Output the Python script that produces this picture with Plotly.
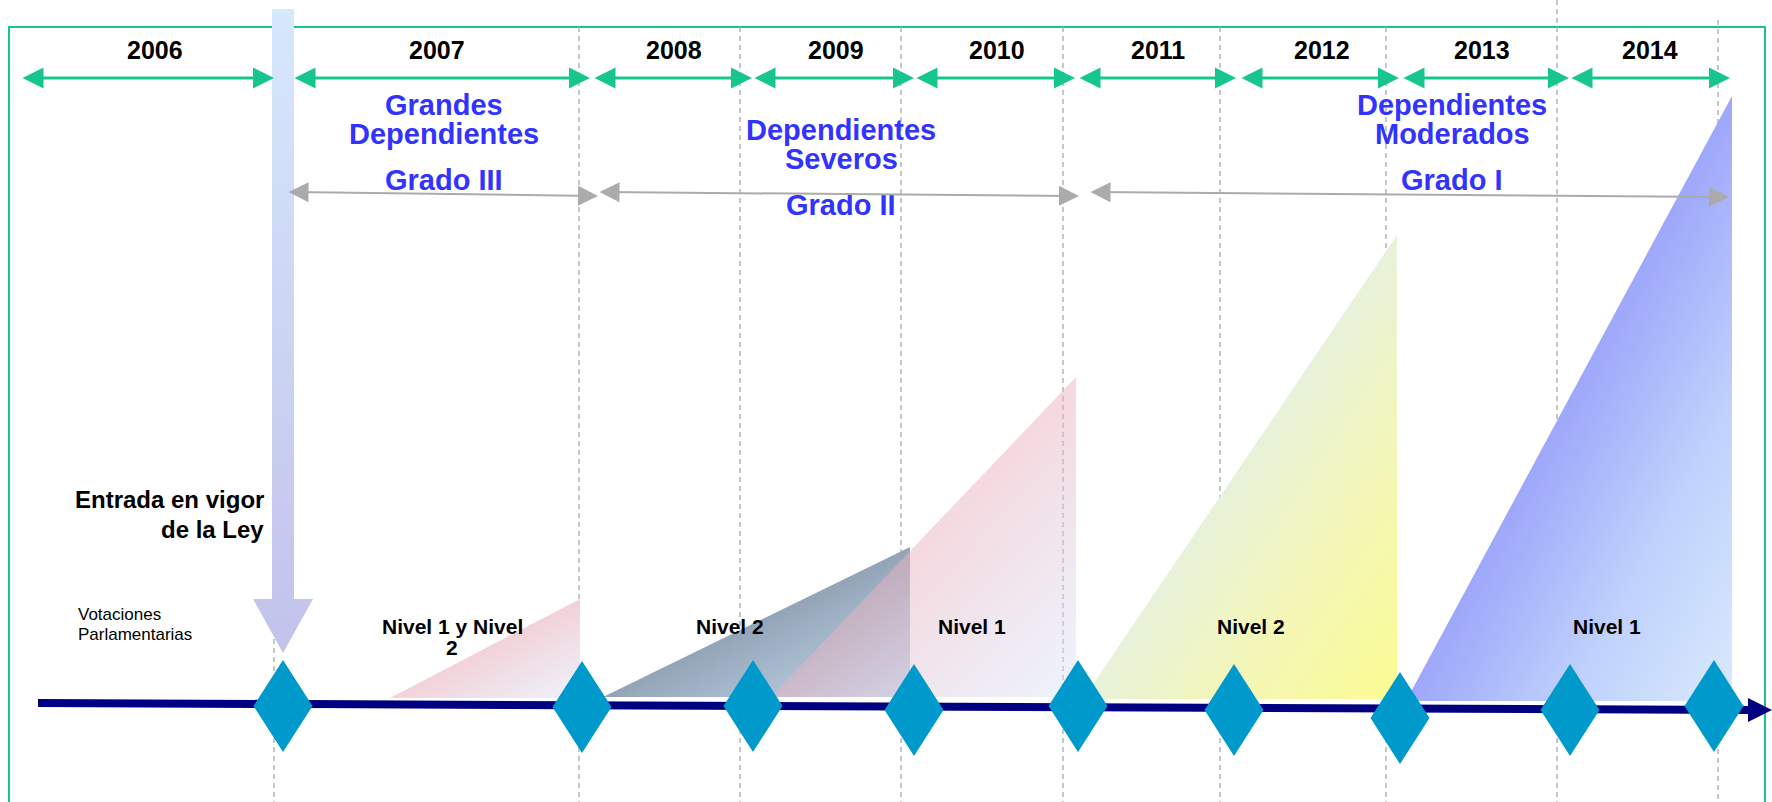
import plotly.graph_objects as go

W, H = 1772, 802
FONT = "Liberation Sans, Arial, sans-serif"

# ---------------- data (timeline units: 1 unit = 1 px of the 1772x802 canvas) -------------
years = ["2006", "2007", "2008", "2009", "2010", "2011", "2012", "2013", "2014"]
year_center = [155, 437, 674, 836, 997, 1158, 1322, 1482, 1650]
year_start = [23, 295, 595, 755, 917, 1080, 1242, 1404, 1572]
year_end = [272, 588, 750, 912, 1073, 1234, 1397, 1567, 1728]
year_label_y = 50
year_bracket_y = 78

grid_x = [274, 579, 740, 901, 1063, 1220, 1386, 1557, 1718]
grid_top = [27, 27, 27, 27, 27, 27, 27, 0, 20]

group_lines = [["Grandes", "Dependientes"], ["Dependientes", "Severos"], ["Dependientes", "Moderados"]]
group_x = [444, 841, 1452]
group_y = [105, 130, 105]
grado_labels = ["Grado III", "Grado II", "Grado I"]
grado_y = [180, 205, 180]
grado_x0 = [289, 600, 1091]
grado_x1 = [596, 1077, 1727]
grado_y0 = [192, 192, 192]
grado_y1 = [196, 196, 197]

milestone_x = [283, 582, 753, 914, 1078, 1234, 1400, 1570, 1714]
milestone_y = [706, 707, 706, 710, 706, 710, 718, 710, 706]

timeline_x = [38, 1772]
timeline_y = [703, 710]

nivel_labels = ["Nivel 1 y Nivel", "Nivel 2", "Nivel 1", "Nivel 2", "Nivel 1"]
nivel_x = [452, 730, 972, 1251, 1607]
nivel_y = [626, 626, 626, 626, 626]

wedge_x0 = [390, 603, 771, 1083, 1406]
wedge_x1 = [580, 910, 1076, 1397, 1732]
wedge_top = [599, 547, 377, 235, 96]
wedge_base = [698, 697, 697, 699, 701]
wedge_scales = [
    [[0, "#F2D2D8"], [1, "#EEF3FD"]],
    [[0, "#93A4B7"], [1, "#C6DBEF"]],
    [[0, "rgba(234,178,190,0.5)"], [1, "rgba(215,230,252,0.45)"]],
    [[0, "#E8F2DA"], [0.5, "#F4F7B4"], [1, "#FCFC92"]],
    [[0, "#9EA7FA"], [0.5, "#C0D1FC"], [1, "#D8EAFD"]],
]
wedge_order = [1, 2, 0, 3, 4]

law_x = 283
law_top = 9
law_shaft_end = 599
law_tip = 653
law_lines = ["Entrada en vigor", "de la Ley"]
law_text_x = 266
law_text_y = [499, 529]

vot_lines = ["Votaciones", "Parlamentarias"]
vot_x = 76
vot_y = [614, 634]

GREEN = "#17C58F"
BLUE_TXT = "#3333FF"
GRAY = "#ABABAB"
NAVY = "#000080"
DIAMOND = "#0099CC"

fig = go.Figure()

# ---------------- wedges (diagonal gradient built from horizontal bands) ----------------
BAND = 4
for i in wedge_order:
    x0, x1, yt, yb = wedge_x0[i], wedge_x1[i], wedge_top[i], wedge_base[i]
    w, h = x1 - x0, yb - yt

    def xl(y):
        return x1 - w * (y - yt) / h

    y = yt
    while y < yb:
        ya, yb2 = y, min(y + BAND, yb)
        ym = (ya + yb2) / 2
        s = xl(ym)
        fig.add_trace(go.Scatter(
            x=[xl(ya), x1, x1, xl(yb2), xl(ya)], y=[ya, ya, yb2, yb2, ya],
            mode="lines", line=dict(width=0), fill="toself",
            fillgradient=dict(type="horizontal", colorscale=wedge_scales[i], start=s, stop=s + w),
            hoverinfo="skip", showlegend=False))
        y = yb2

# ---------------- timeline ----------------
HEAD_LEN, HEAD_HALF = 24, 12
tx0, tx1 = timeline_x
ty0, ty1 = timeline_y
hx = tx1 - HEAD_LEN
hy = ty0 + (ty1 - ty0) * (hx - tx0) / (tx1 - tx0)
fig.add_trace(go.Scatter(x=[tx0, hx + 2], y=[ty0, hy], mode="lines",
                         line=dict(color=NAVY, width=8), hoverinfo="skip", showlegend=False))
fig.add_trace(go.Scatter(x=[hx, tx1, hx, hx], y=[hy - HEAD_HALF, ty1, hy + HEAD_HALF, hy - HEAD_HALF],
                         mode="lines", line=dict(width=0), fill="toself", fillcolor=NAVY,
                         hoverinfo="skip", showlegend=False))

# ---------------- diamonds ----------------
DW, DH = 29.5, 46
dx, dy = [], []
for cx, cy in zip(milestone_x, milestone_y):
    dx += [cx, cx + DW, cx, cx - DW, cx, None]
    dy += [cy - DH, cy, cy + DH, cy, cy - DH, None]
fig.add_trace(go.Scatter(x=dx, y=dy, mode="lines", line=dict(width=0), fill="toself",
                         fillcolor=DIAMOND, hoverinfo="skip", showlegend=False))

# ---------------- law arrow ----------------
SH, HH = 11, 30
fig.add_trace(go.Scatter(
    x=[law_x - SH, law_x + SH, law_x + SH, law_x + HH, law_x, law_x - HH, law_x - SH, law_x - SH],
    y=[law_top, law_top, law_shaft_end, law_shaft_end, law_tip, law_shaft_end, law_shaft_end, law_top],
    mode="lines", line=dict(width=0), fill="toself",
    fillgradient=dict(type="vertical", colorscale=[[0, "#D6E8FC"], [1, "#C2C2EB"]],
                      start=law_top, stop=law_tip),
    hoverinfo="skip", showlegend=False))

# ---------------- shapes: frame & grid ----------------
shapes = [dict(type="rect", xref="x", yref="y", x0=9, y0=27, x1=1765, y1=840,
               line=dict(color=GREEN, width=2), layer="below")]
for gx, gt in zip(grid_x, grid_top):
    shapes.append(dict(type="line", xref="x", yref="y", x0=gx, x1=gx, y0=gt, y1=H,
                       line=dict(color="#B4B4B4", width=1.5, dash="5px,4px"), layer="below"))

# ---------------- annotations ----------------
ann = []
TIP = -2
for lab, xc, xs, xe in zip(years, year_center, year_start, year_end):
    ann.append(dict(x=xc, y=year_label_y, text=lab, showarrow=False,
                    font=dict(family=FONT, size=25, color="black", weight="bold")))
    ann.append(dict(x=xe - TIP, y=year_bracket_y, ax=xs + TIP, ay=year_bracket_y,
                    xref="x", yref="y", axref="x", ayref="y", text="", showarrow=True,
                    arrowside="end+start", arrowhead=2, startarrowhead=2,
                    arrowsize=1.4, startarrowsize=1.4, arrowwidth=3, arrowcolor=GREEN))

for lines, gx, gy in zip(group_lines, group_x, group_y):
    for k, t in enumerate(lines):
        ann.append(dict(x=gx, y=gy + 29 * k, text=t, showarrow=False,
                        font=dict(family=FONT, size=29, color=BLUE_TXT, weight="bold")))
for lab, gx, gy, x0, x1, y0, y1 in zip(grado_labels, group_x, grado_y, grado_x0, grado_x1, grado_y0, grado_y1):
    ann.append(dict(x=gx, y=gy, text=lab, showarrow=False,
                    font=dict(family=FONT, size=29, color=BLUE_TXT, weight="bold")))
    ann.append(dict(x=x1 - TIP, y=y1, ax=x0 + TIP, ay=y0,
                    xref="x", yref="y", axref="x", ayref="y", text="", showarrow=True,
                    arrowside="end+start", arrowhead=2, startarrowhead=2,
                    arrowsize=2.0, startarrowsize=2.0, arrowwidth=2, arrowcolor=GRAY))

for lab, nx, ny in zip(nivel_labels, nivel_x, nivel_y):
    ann.append(dict(x=nx, y=ny, text=lab, showarrow=False,
                    font=dict(family=FONT, size=21, color="black", weight="bold")))
ann.append(dict(x=nivel_x[0], y=nivel_y[0] + 21, text="2", showarrow=False,
                font=dict(family=FONT, size=21, color="black", weight="bold")))

for t, yy in zip(law_lines, law_text_y):
    ann.append(dict(x=law_text_x, y=yy, text=t, showarrow=False, xanchor="right",
                    font=dict(family=FONT, size=24, color="black", weight="bold")))
for t, yy in zip(vot_lines, vot_y):
    ann.append(dict(x=vot_x, y=yy, text=t, showarrow=False, xanchor="left",
                    font=dict(family=FONT, size=17, color="black")))

fig.update_layout(
    width=W, height=H, margin=dict(l=0, r=0, t=0, b=0, pad=0),
    paper_bgcolor="white", plot_bgcolor="white",
    xaxis=dict(range=[0, W], visible=False, fixedrange=True),
    yaxis=dict(range=[H, 0], visible=False, fixedrange=True),
    shapes=shapes, annotations=ann, showlegend=False,
)

fig.write_html("out.html", config={"displayModeBar": False},
               post_script="document.body.style.margin='0';")
